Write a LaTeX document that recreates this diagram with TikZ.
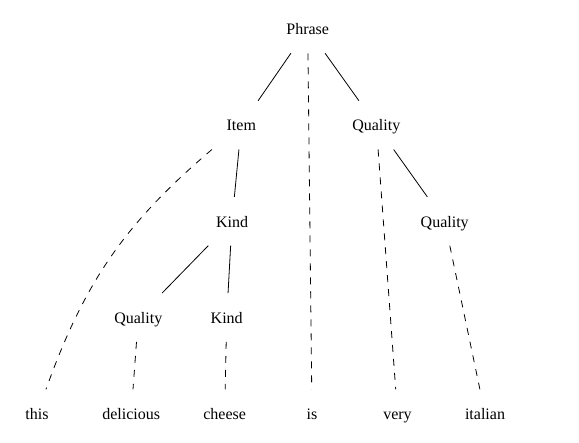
\documentclass[tikz,border=0pt]{standalone}
\usepackage{fontspec}
\setmainfont{Liberation Serif}
\usepackage{tikz}
\usetikzlibrary{positioning}

\begin{document}
\begin{tikzpicture}[node distance=47.4pt, auto]

\tikzstyle{ledd}=[rectangle, inner sep=0pt, minimum height=48.4pt, minimum width=64pt, text height=12pt, text depth=0.4pt, font=\fontsize{16pt}{19pt}\selectfont]
\tikzstyle{gren}=[line width=0.8pt]
\tikzstyle{stiplet}=[line width=0.8pt, dash pattern=on 7pt off 7pt]

\useasboundingbox (0,0) rectangle (579pt,-443pt);

\node[ledd] (phrase) at (307.7pt,-28.9pt) {Phrase};
\node[ledd, below=of phrase, xshift=-66.4pt] (item) {Item};
\node[ledd, below=of phrase, xshift=68.6pt] (quality) {Quality};
\node[ledd, below=of item, xshift=-9.3pt] (kind) {Kind};
\node[ledd, below=of quality, xshift=68.4pt] (quality2) {Quality};
\node[ledd, below=of kind, xshift=-93.7pt] (quality3) {Quality};
\node[ledd, below=of kind, xshift=-5.3pt] (kind2) {Kind};

\node[ledd, below=of quality3, xshift=-101.3pt] (this) {this};
\node[ledd, below=of quality3, xshift=-7.1pt] (delicious) {delicious};
\node[ledd, below=of kind2, xshift=-2pt] (cheese) {cheese};
\node[ledd, below=of kind2, xshift=85.3pt] (is) {is};
\node[ledd, below=of kind2, xshift=170.8pt] (very) {very};
\node[ledd, below=of kind2, xshift=258.3pt] (italian) {italian};

\draw[gren] (phrase) to (item);
\draw[stiplet] (phrase) to (is);
\draw[gren] (phrase) to (quality);
\draw[stiplet, bend right=15] (item) to (this);
\draw[gren] (item) to (kind);
\draw[gren] (kind) to (quality3);
\draw[gren] (kind) to (kind2);
\draw[stiplet] (quality3) to (delicious);
\draw[stiplet] (kind2) to (cheese);
\draw[stiplet] (quality) to (very);
\draw[gren] (quality) to (quality2);
\draw[stiplet] (quality2) to (italian);

\end{tikzpicture}
\end{document}
